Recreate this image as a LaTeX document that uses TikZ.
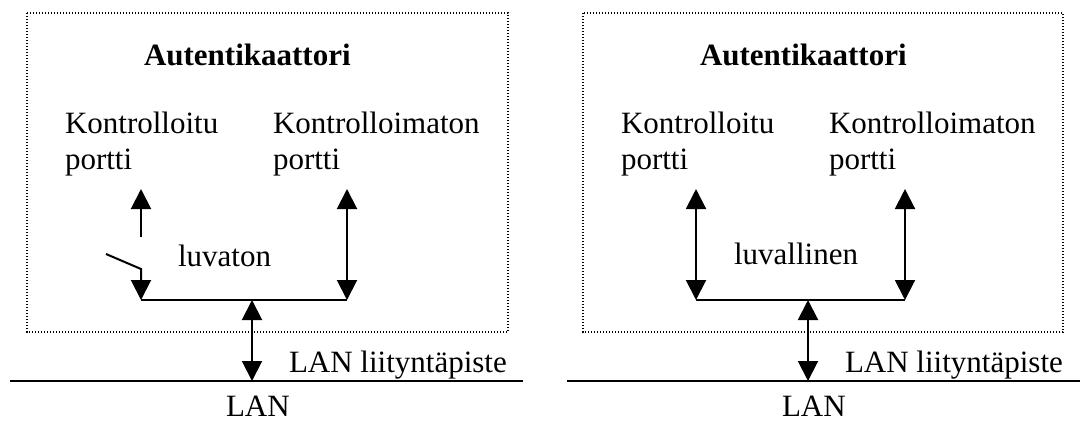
\documentclass[tikz,border=0pt]{standalone}
\usepackage{fontspec}
\setmainfont{Liberation Serif}
\usetikzlibrary{arrows.meta,positioning}

\begin{document}
\begin{tikzpicture}[x=0.5pt, y=-0.5pt, >={Triangle[length=10pt,width=10pt]},
    line width=1pt, font=\fontsize{15.5}{18}\selectfont,
    txt/.style={inner sep=0pt, anchor=base west},
    authbox/.style={draw, line width=0.6pt, dash pattern=on 0.6pt off 0.9pt}]
    \useasboundingbox (0,0) rectangle (1080,423);

    % Left authenticator (unauthorised)
    \draw[authbox] (27,13) rectangle (508,332);
    \node [txt, font=\fontsize{15.5}{18}\selectfont\bfseries] (Auth1) at (143,65) {Autentikaattori};
    \node [txt] (Ctrl1) at (64,133) {Kontrolloitu};
    \node [txt] (Ctrl1b) at (64,169) {portti};
    \node [txt] (Unctrl1) at (272,133) {Kontrolloimaton};
    \node [txt] (Unctrl1b) at (272,169) {portti};
    \node [txt] (State1) at (177,266) {luvaton};
    \node [txt] (Point1) at (288,372) {LAN liityntäpiste};
    \node [txt] (Lan1) at (225,416) {LAN};

    \coordinate (Port1top) at (141,189);
    \coordinate (Port1end) at (141,237);
    \coordinate (Switch1) at (106,254);
    \coordinate (Pivot1) at (141,269);
    \coordinate (Bus1west) at (141,300);
    \coordinate (Bus1east) at (347,300);
    \coordinate (Port2top) at (347,189);
    \coordinate (Bus1mid) at (252,300);
    \coordinate (Tap1) at (252,381);
    \coordinate (Lan1west) at (10,381);
    \coordinate (Lan1east) at (523,381);

    % Arrows
    \draw[->] (Port1end) -- (Port1top);
    \draw[->] (Switch1) -- (Pivot1) -- (Bus1west);
    \draw (Bus1west) -- (Bus1east);
    \draw[<->] (Port2top) -- (Bus1east);
    \draw[<->] (Bus1mid) -- (Tap1);
    \draw (Lan1west) -- (Lan1east);

    % Right authenticator (authorised)
    \draw[authbox] (583,13) rectangle (1063,332);
    \node [txt, font=\fontsize{15.5}{18}\selectfont\bfseries] (Auth2) at (699,65) {Autentikaattori};
    \node [txt] (Ctrl2) at (620,133) {Kontrolloitu};
    \node [txt] (Ctrl2b) at (620,169) {portti};
    \node [txt] (Unctrl2) at (828,133) {Kontrolloimaton};
    \node [txt] (Unctrl2b) at (828,169) {portti};
    \node [txt] (State2) at (733,264) {luvallinen};
    \node [txt] (Point2) at (844,372) {LAN liityntäpiste};
    \node [txt] (Lan2) at (781,416) {LAN};

    \coordinate (Port3top) at (696,189);
    \coordinate (Bus2west) at (696,300);
    \coordinate (Bus2east) at (905,300);
    \coordinate (Port4top) at (905,189);
    \coordinate (Bus2mid) at (808,300);
    \coordinate (Tap2) at (808,381);
    \coordinate (Lan2west) at (567,381);
    \coordinate (Lan2east) at (1080,381);

    % Arrows
    \draw[<->] (Port3top) -- (Bus2west);
    \draw (Bus2west) -- (Bus2east);
    \draw[<->] (Port4top) -- (Bus2east);
    \draw[<->] (Bus2mid) -- (Tap2);
    \draw (Lan2west) -- (Lan2east);

\end{tikzpicture}
\end{document}
